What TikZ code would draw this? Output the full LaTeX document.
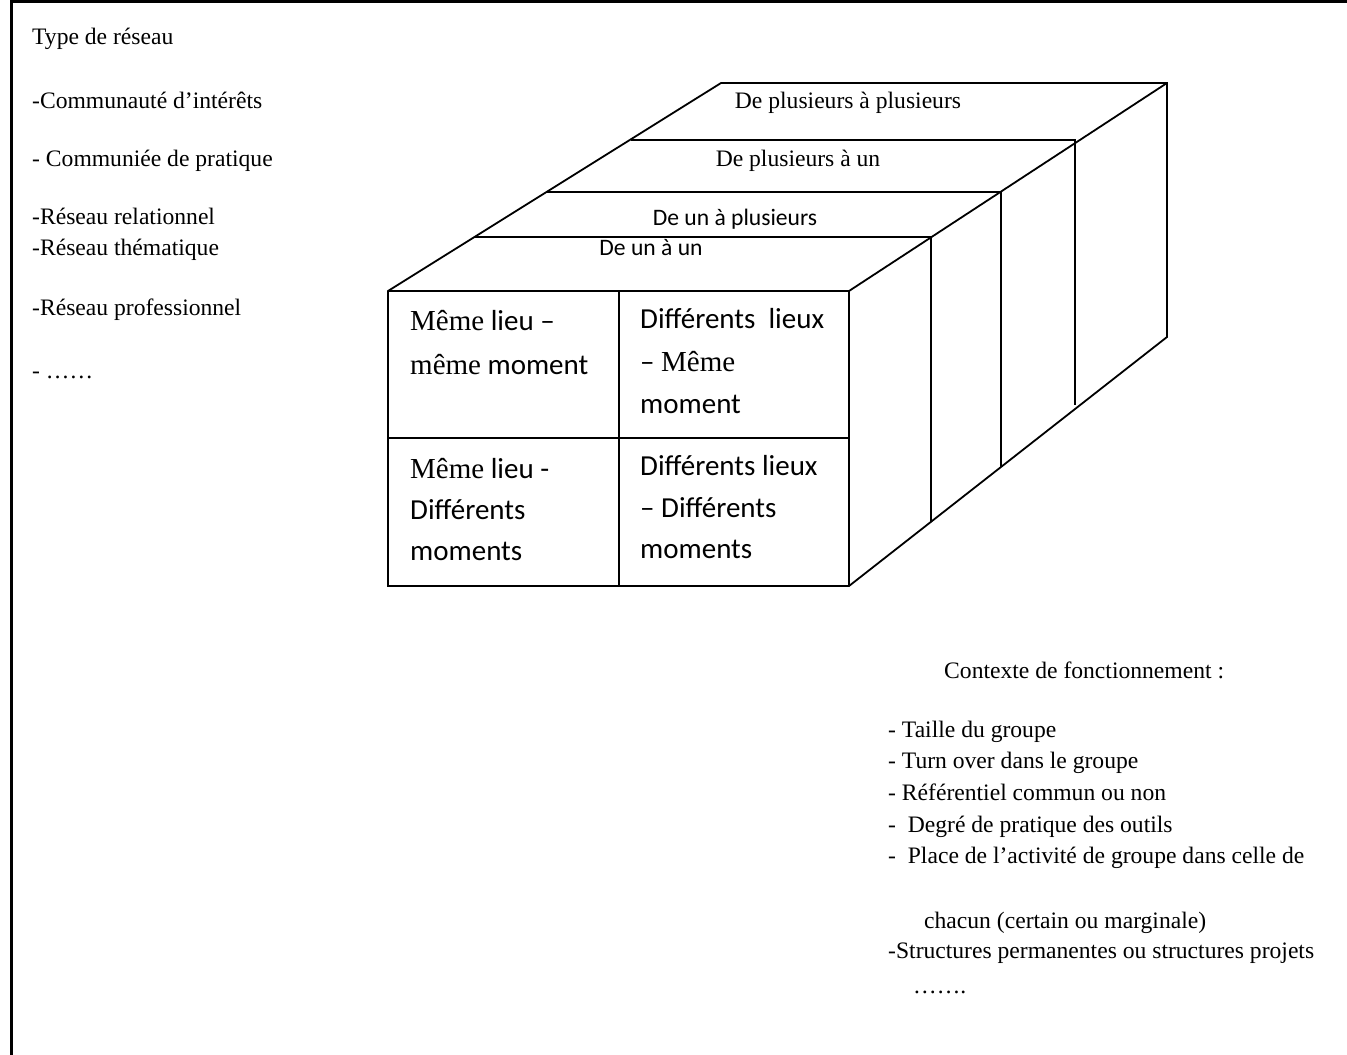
\documentclass[tikz,border=0pt]{standalone}
\usepackage{fontspec}
\setmainfont{Liberation Serif}
\newfontfamily\calib{Carlito}
\begin{document}
\begin{tikzpicture}[x=1pt,y=-1pt,
  txt/.style={inner sep=0pt, anchor=base west, font=\fontsize{23.6}{28}\selectfont},
  sanslbl/.style={inner sep=0pt, anchor=base, font=\fontsize{23.6}{28}\selectfont\calib},
  seriflbl/.style={inner sep=0pt, anchor=base, font=\fontsize{23.6}{28}\selectfont},
  cell/.style={inner sep=0pt, anchor=base west, font=\fontsize{29}{35}\selectfont\calib},
  edge/.style={line width=1.8pt, line join=miter},
  frame/.style={line width=3pt}]
\useasboundingbox (0,0) rectangle (1347,1055);

% page frame
\coordinate (fTL) at (11,1.5);
\coordinate (fTR) at (1347,1.5);
\coordinate (fBL) at (11,1055);
\draw[frame] (fBL) -- (fTL) -- (fTR);

% left column: types of network
\node[txt] (t0) at (32,44)  {Type de réseau};
\node[txt] (t1) at (32,108) {-Communauté d’intérêts};
\node[txt] (t2) at (32,166) {- Communiée de pratique};
\node[txt] (t3) at (32,224) {-Réseau relationnel};
\node[txt] (t4) at (32,255) {-Réseau thématique};
\node[txt] (t5) at (32,315) {-Réseau professionnel};
\node[txt] (t6) at (32,378) {- ……};

% cube corners
\coordinate (FTL) at (388,291);
\coordinate (FTR) at (849,291);
\coordinate (FBR) at (849,586);
\coordinate (FBL) at (388,586);
\coordinate (BTL) at (721,83);
\coordinate (BTR) at (1167,83);
\coordinate (BBR) at (1167,337);

% cube outline
\draw[edge] (FBL) -- (FTL) -- (BTL) -- (BTR) -- (BBR) -- (FBR) -- cycle;
\draw[edge] (FTL) -- (FTR) -- (FBR);
\draw[edge] (FTR) -- (BTR);

% front face grid
\draw[edge] (619,291) -- (619,586);
\draw[edge] (388,438) -- (849,438);

% layers on the top face, continued down the right face
\coordinate (L1a) at (474,237);  \coordinate (L1b) at (931,237);  \coordinate (L1c) at (931,522);
\coordinate (L2a) at (547,192);  \coordinate (L2b) at (1001,192); \coordinate (L2c) at (1001,467);
\coordinate (L3a) at (631,140);  \coordinate (L3b) at (1075,140); \coordinate (L3c) at (1075,405);
\draw[edge] (L1a) -- (L1b) -- (L1c);
\draw[edge] (L2a) -- (L2b) -- (L2c);
\draw[edge] (L3a) -- (L3b) -- (L3c);

% top face labels
\node[seriflbl] (k4) at (848,108) {De plusieurs à plusieurs};
\node[seriflbl] (k3) at (798,166) {De plusieurs à un};
\node[sanslbl]  (k2) at (735,225) {De un à plusieurs};
\node[sanslbl]  (k1) at (651,255) {De un à un};

% front face cells
\node[cell] (c11a) at (410,330) {{\rmfamily Même} lieu –};
\node[cell] (c11b) at (410,374) {{\rmfamily même} moment};
\node[cell] (c12a) at (640,328) {Différents\ \ lieux};
\node[cell] (c12b) at (640,371) {– {\rmfamily Même}};
\node[cell] (c12c) at (640,413) {moment};
\node[cell] (c21a) at (410,478) {{\rmfamily Même} lieu -};
\node[cell] (c21b) at (410,519) {Différents};
\node[cell] (c21c) at (410,560) {moments};
\node[cell] (c22a) at (640,475) {Différents lieux};
\node[cell] (c22b) at (640,517) {– Différents};
\node[cell] (c22c) at (640,558) {moments};

% right column: working context
\node[txt] (r0) at (944,678) {Contexte de fonctionnement :};
\node[txt] (r1) at (888,737) {- Taille du groupe};
\node[txt] (r2) at (888,768) {- Turn over dans le groupe};
\node[txt] (r3) at (888,800) {- Référentiel commun ou non};
\node[txt] (r4) at (888,832) {-\ \ Degré de pratique des outils};
\node[txt] (r5) at (888,863) {-\ \ Place de l’activité de groupe dans celle de};
\node[txt] (r6) at (924,928) {chacun (certain ou marginale)};
\node[txt] (r7) at (888,958) {-Structures permanentes ou structures projets};
\node[txt] (r8) at (913,993) {…….};
\end{tikzpicture}
\end{document}
